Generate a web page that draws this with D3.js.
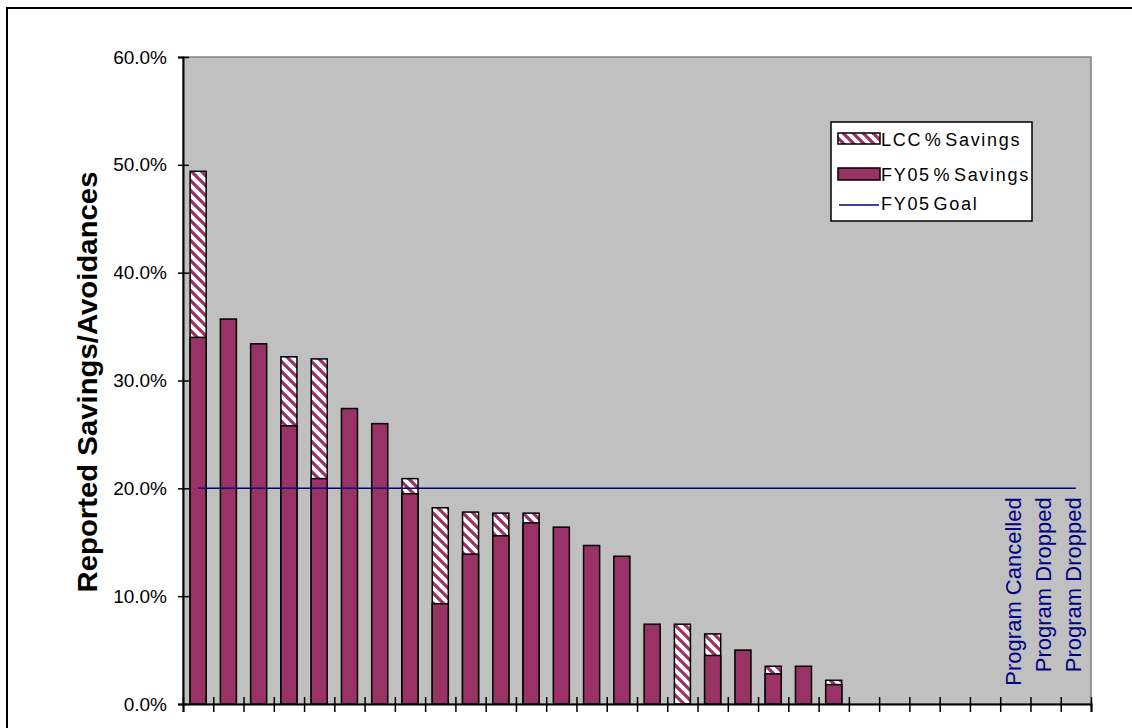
<!DOCTYPE html>
<html>
<head>
<meta charset="utf-8">
<script src="https://cdn.jsdelivr.net/npm/d3@7"></script>
<style>
  html, body { margin: 0; padding: 0; background: #ffffff; }
  svg { display: block; }
  text { font-family: Arial, "Liberation Sans", sans-serif; }
</style>
</head>
<body>
<svg id="chart" width="1132" height="728"></svg>
<script>
// Program identifiers, one per category slot on the x axis
const categories = d3.range(1, 31).map(i => "P" + String(i).padStart(2, "0"));

// FY05 % savings per program (null = no bar)
const fy05Savings = [
  0.340, 0.357, 0.334, 0.258, 0.209, 0.274, 0.260, 0.195, 0.093, 0.139,
  0.156, 0.168, 0.164, 0.147, 0.137, 0.074, 0.000, 0.045, 0.050, 0.028,
  0.035, 0.018, null, null, null, null, null, null, null, null
];

// Life-cycle-cost % savings per program (null = not reported)
const lccSavings = [
  0.494, null, null, 0.322, 0.320, null, null, 0.209, 0.182, 0.178,
  0.177, 0.177, null, null, null, null, 0.074, 0.065, null, 0.035,
  null, 0.022, null, null, null, null, null, null, null, null
];

// FY05 goal
const goal = 0.20;

// Status notes for programs without savings
const statusCategories = ["P28", "P29", "P30"];
const statusTexts = ["Program Cancelled", "Program Dropped", "Program Dropped"];

// Y axis ticks
const yTicks = [0, 0.1, 0.2, 0.3, 0.4, 0.5, 0.6];

// Legend entries
const legendLabels = ["LCC % Savings", "FY05 % Savings", "FY05 Goal"];

const BAR = "#993366";
const PLOT_BG = "#c0c0c0";
const NAVY = "#000080";

const svg = d3.select("#chart");

const plot = { left: 183, right: 1091, top: 57, bottom: 704 };

const x = d3.scaleBand()
  .domain(categories)
  .range([plot.left, plot.right])
  .paddingInner(0.47)
  .paddingOuter(0.235);

const xEdge = d3.scaleLinear()
  .domain([0, categories.length])
  .range([plot.left, plot.right]);

const y = d3.scaleLinear()
  .domain([0, 0.6])
  .range([plot.bottom, plot.top]);

// wide downward-diagonal hatch used for LCC savings
const defs = svg.append("defs");
const hatch = defs.append("pattern")
  .attr("id", "hatch")
  .attr("patternUnits", "userSpaceOnUse")
  .attr("width", 10)
  .attr("height", 10);
hatch.append("rect").attr("width", 10).attr("height", 10).attr("fill", "#ffffff");
hatch.append("path")
  .attr("d", "M-2.5,-2.5 L12.5,12.5 M-2.5,7.5 L2.5,12.5 M7.5,-2.5 L12.5,2.5")
  .attr("stroke", BAR)
  .attr("stroke-width", 3.3);

// outer chart frame
svg.append("path")
  .attr("d", "M7,740 L7,8 L1140,8")
  .attr("fill", "none")
  .attr("stroke", "#000")
  .attr("stroke-width", 2);

// plot area
svg.append("rect")
  .attr("x", plot.left)
  .attr("y", plot.top)
  .attr("width", plot.right - plot.left)
  .attr("height", plot.bottom - plot.top)
  .attr("fill", PLOT_BG)
  .attr("stroke", "#808080")
  .attr("stroke-width", 1.5);

// LCC bars (behind)
const lccData = categories.map((c, i) => ({ c, v: lccSavings[i] })).filter(d => d.v != null && d.v > 0);
svg.append("g").selectAll("rect")
  .data(lccData)
  .join("rect")
  .attr("x", d => x(d.c))
  .attr("y", d => y(d.v))
  .attr("width", x.bandwidth())
  .attr("height", d => y(0) - y(d.v))
  .attr("fill", "url(#hatch)")
  .attr("stroke", "#000")
  .attr("stroke-width", 1.5);

// FY05 bars (front)
const fyData = categories.map((c, i) => ({ c, v: fy05Savings[i] })).filter(d => d.v != null && d.v > 0);
svg.append("g").selectAll("rect")
  .data(fyData)
  .join("rect")
  .attr("x", d => x(d.c))
  .attr("y", d => y(d.v))
  .attr("width", x.bandwidth())
  .attr("height", d => y(0) - y(d.v))
  .attr("fill", BAR)
  .attr("stroke", "#000")
  .attr("stroke-width", 1.5);

// goal line
const first = categories[0], last = categories[categories.length - 1];
svg.append("line")
  .attr("x1", x(first) + x.bandwidth() / 2)
  .attr("x2", x(last) + x.bandwidth() / 2)
  .attr("y1", y(goal))
  .attr("y2", y(goal))
  .attr("stroke", NAVY)
  .attr("stroke-width", 1.5);

// status notes
svg.append("g").selectAll("text")
  .data(statusCategories.map((c, i) => ({ c, t: statusTexts[i] })))
  .join("text")
  .attr("transform", d => `translate(${x(d.c) + x.bandwidth() / 2},${y(goal) + 9}) rotate(-90)`)
  .attr("text-anchor", "end")
  .attr("dy", "0.25em")
  .attr("font-size", 22)
  .attr("fill", NAVY)
  .text(d => d.t);

// y axis
const yAxis = svg.append("g")
  .attr("transform", `translate(${plot.left},0)`)
  .call(d3.axisLeft(y).tickValues(yTicks).tickFormat(d3.format(".1%")).tickSize(5).tickPadding(11));
yAxis.select(".domain").attr("stroke", "#000").attr("stroke-width", 2);
yAxis.selectAll(".tick line").attr("x1", 6).attr("x2", -5).attr("stroke-width", 1.5);
yAxis.selectAll(".tick text")
  .attr("font-size", 19)
  .attr("font-family", "Arial, 'Liberation Sans', sans-serif")
  .attr("fill", "#000");

// x axis: ticks between categories, no labels
const xAxis = svg.append("g")
  .attr("transform", `translate(0,${plot.bottom})`)
  .call(d3.axisBottom(xEdge).tickValues(d3.range(categories.length + 1)).tickFormat("").tickSize(8));
xAxis.select(".domain").attr("stroke", "#000").attr("stroke-width", 2);
xAxis.selectAll(".tick line").attr("y1", -7).attr("y2", 8).attr("stroke-width", 1.5);

// y axis title
svg.append("text")
  .attr("transform", "translate(97,382) rotate(-90)")
  .attr("text-anchor", "middle")
  .attr("font-size", 27)
  .attr("font-weight", "bold")
  .attr("textLength", 421)
  .attr("lengthAdjust", "spacingAndGlyphs")
  .text("Reported Savings/Avoidances");

// legend
const legend = svg.append("g");
legend.append("rect")
  .attr("x", 831).attr("y", 122).attr("width", 201).attr("height", 99)
  .attr("fill", "#fff").attr("stroke", "#000").attr("stroke-width", 1.5);
const rowY = [139, 174, 203];
legend.append("rect")
  .attr("x", 838).attr("y", 133).attr("width", 42).attr("height", 11)
  .attr("fill", "url(#hatch)").attr("stroke", "#000").attr("stroke-width", 1.5);
legend.append("rect")
  .attr("x", 838).attr("y", 168).attr("width", 42).attr("height", 12)
  .attr("fill", BAR).attr("stroke", "#000").attr("stroke-width", 1.5);
legend.append("line")
  .attr("x1", 839).attr("x2", 879).attr("y1", 205).attr("y2", 205)
  .attr("stroke", NAVY).attr("stroke-width", 1.5);
legend.selectAll("text.lbl")
  .data(legendLabels)
  .join("text")
  .attr("class", "lbl")
  .attr("x", 881)
  .attr("y", (d, i) => rowY[i] + 7)
  .attr("font-size", 18)
  .attr("letter-spacing", 1.7)
  .attr("word-spacing", -4)
  .text(d => d);
</script>
</body>
</html>
